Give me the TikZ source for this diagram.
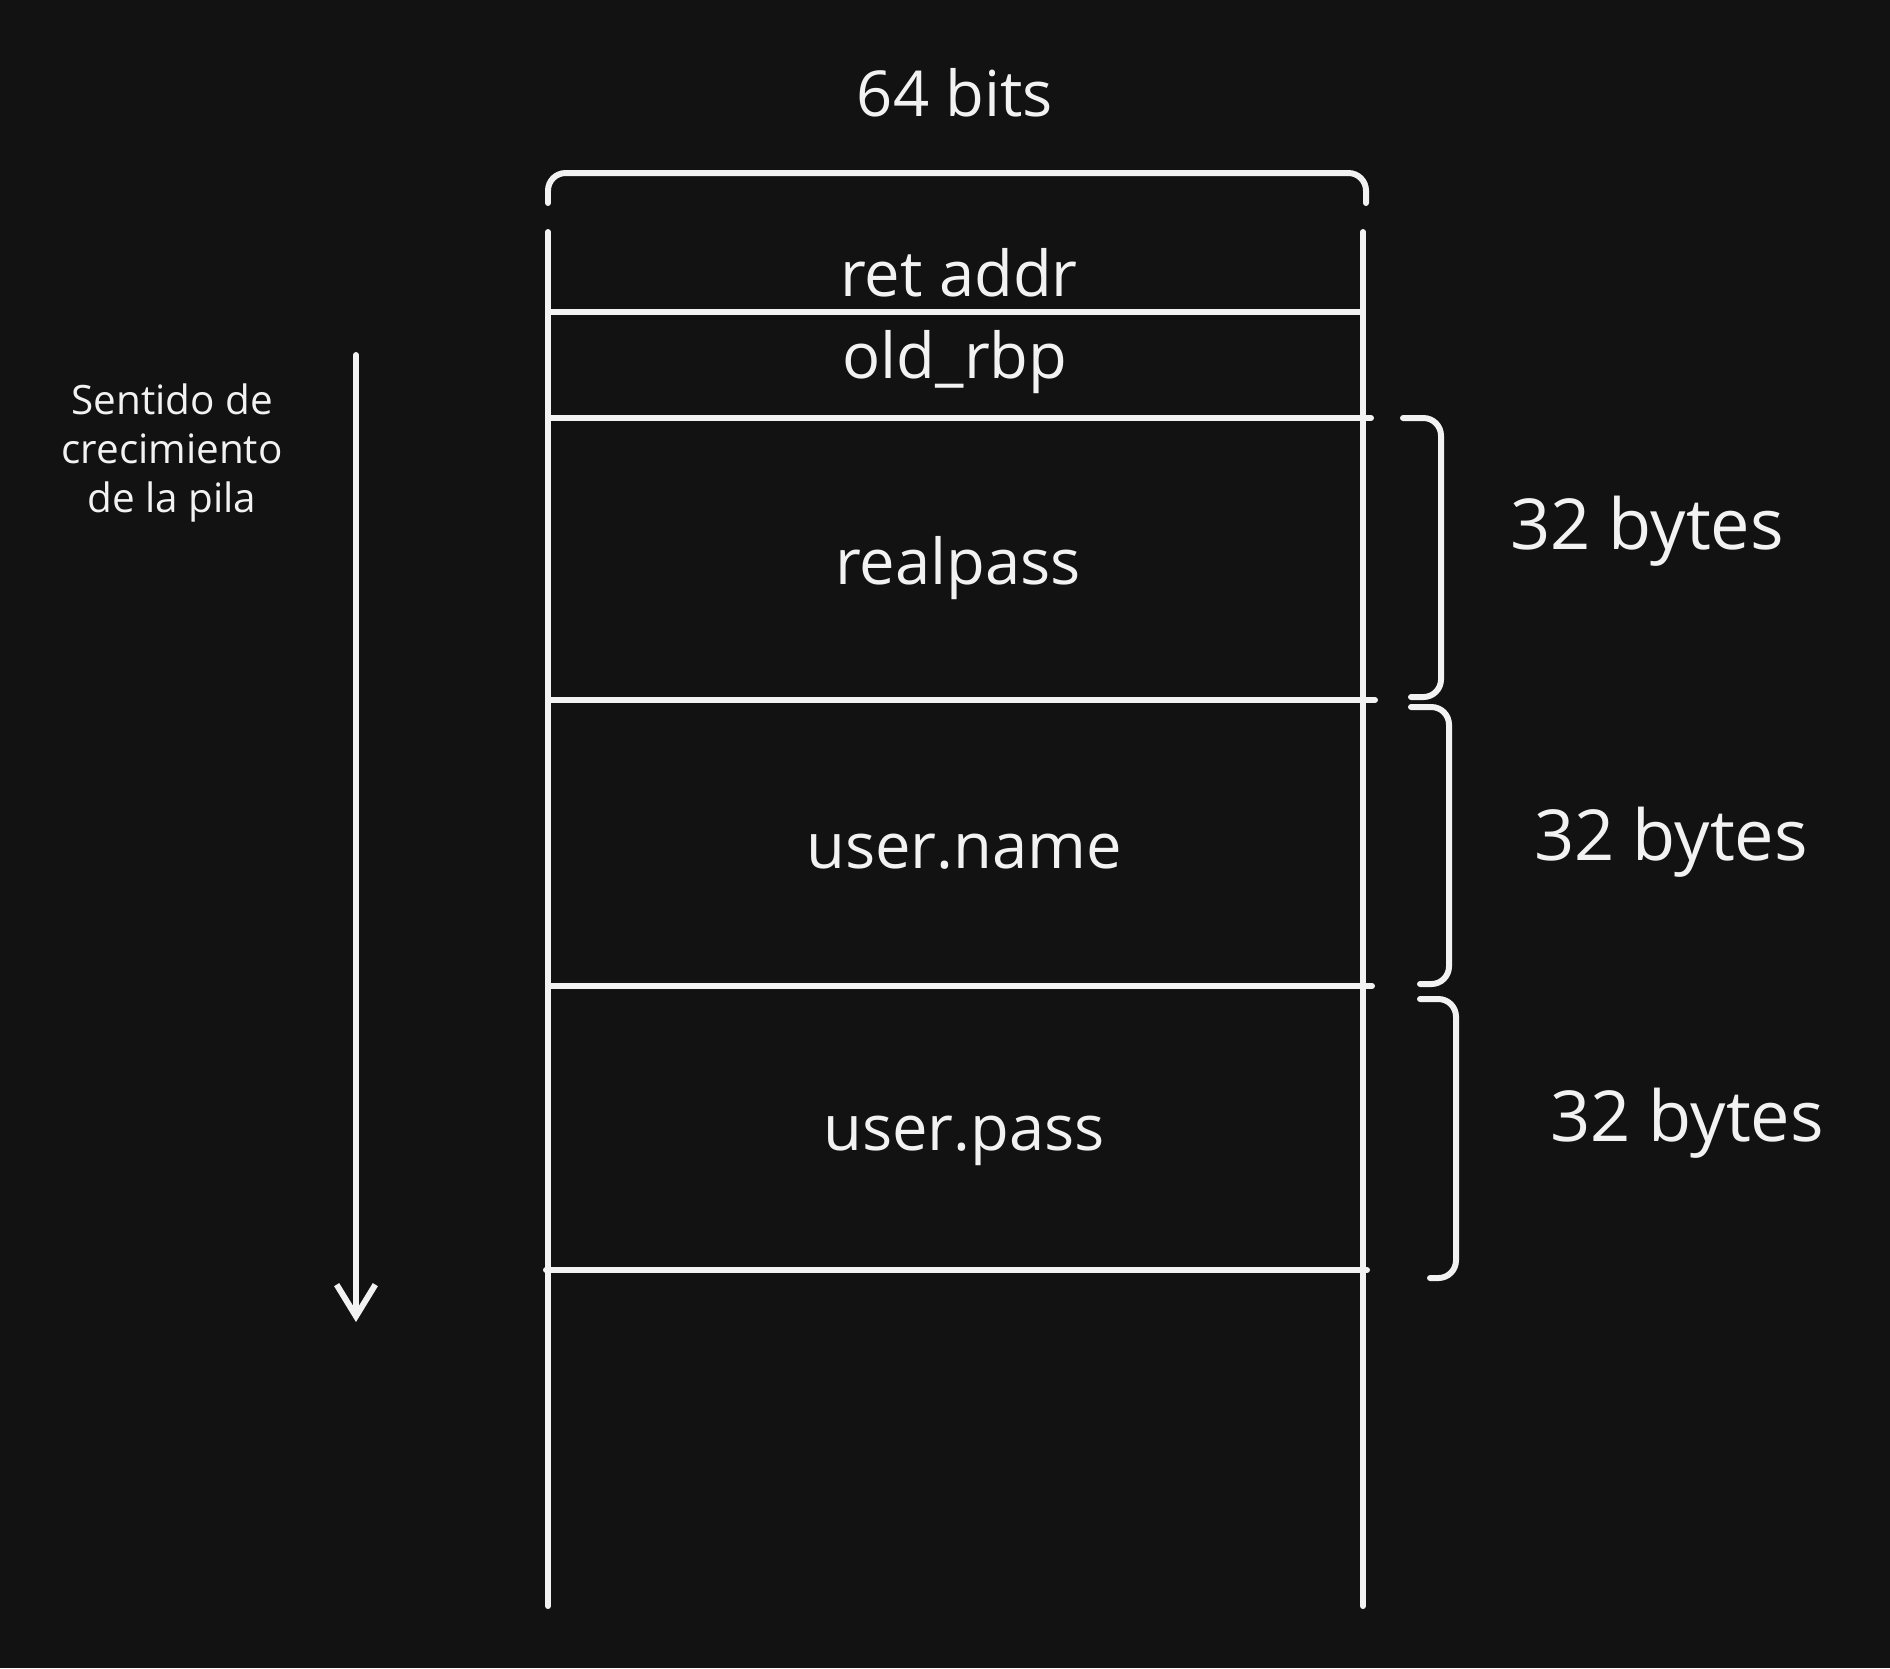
\documentclass[tikz,border=0pt]{standalone}
\usepackage{fontspec}
\setmainfont{Open Sans}
\usetikzlibrary{arrows.meta}
\definecolor{bgcol}{RGB}{18,18,18}
\definecolor{inkcol}{RGB}{242,242,242}

\begin{document}
\begin{tikzpicture}[x=0.01cm,y=-0.01cm,
        line width=1.7pt,line cap=round,
        main line/.style={draw=inkcol},
        bracket/.style={draw=inkcol,rounded corners=5pt},
        cell node/.style={text=inkcol,font=\fontsize{18}{22}\selectfont},
        size node/.style={text=inkcol,font=\fontsize{20}{24}\selectfont}]

        \fill[bgcol] (0,0) rectangle (1890,1668);
        \useasboundingbox (0,0) rectangle (1890,1668);

        % frame and row separators
        \coordinate (tl) at (548,232);
        \coordinate (tr) at (1363,232);
        \coordinate (bl) at (548,1606);
        \coordinate (br) at (1363,1606);
        \coordinate (s1l) at (548,312);  \coordinate (s1r) at (1361,312);
        \coordinate (s2l) at (548,418);  \coordinate (s2r) at (1371,418);
        \coordinate (s3l) at (548,700);  \coordinate (s3r) at (1375,700);
        \coordinate (s4l) at (548,986);  \coordinate (s4r) at (1372,986);
        \coordinate (s5l) at (546,1270); \coordinate (s5r) at (1367,1270);

        \path[main line]
          (tl) edge (bl)
          (tr) edge (br)
          (s1l) edge (s1r)
          (s2l) edge (s2r)
          (s3l) edge (s3r)
          (s4l) edge (s4r)
          (s5l) edge (s5r)
          ;

        \node[cell node] (bits) at (955,93) {64 bits};
        \node[cell node] (ret) at (959,273) {ret addr};
        \node[cell node] (rbp) at (955,362) {old\_rbp};
        \node[cell node] (real) at (958,568) {realpass};
        \node[cell node] (uname) at (964,852) {user.name};
        \node[cell node] (upass) at (964,1141) {user.pass};

        % brackets
        \draw[bracket] (548,203) -- (548,173) -- (1366,173) -- (1366,203);
        \draw[bracket] (1403,418) -- (1441,418) -- (1441,697) -- (1411,697);
        \draw[bracket] (1411,707) -- (1449,707) -- (1449,984) -- (1420,984);
        \draw[bracket] (1420,999) -- (1456,999) -- (1456,1278) -- (1430,1278);

        \node[size node] (b1) at (1647,531) {32 bytes};
        \node[size node] (b2) at (1671,842) {32 bytes};
        \node[size node] (b3) at (1687,1123) {32 bytes};

        % growth direction
        \coordinate (atop) at (356,355);
        \coordinate (abot) at (356,1322);
        \draw[main line,-{Straight Barb[length=9pt,width=11pt]}] (atop) -- (abot);
        \node[text=inkcol,font=\fontsize{11.5}{14}\selectfont,align=center] (grow) at (172,453)
          {Sentido de\\crecimiento\\de la pila};
    \end{tikzpicture}
\end{document}
